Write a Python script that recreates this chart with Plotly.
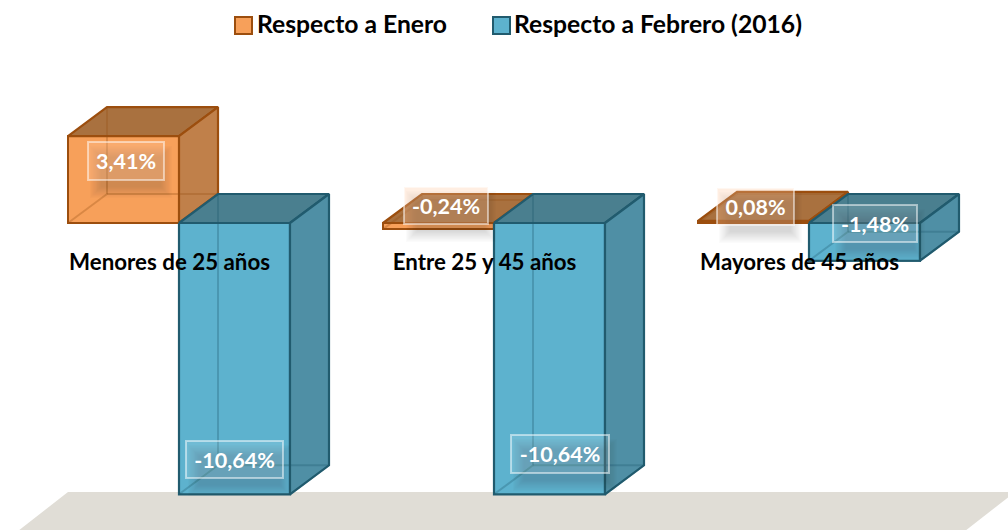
import plotly.graph_objects as go

# ---- data ----
categories = ["Menores de 25 años", "Entre 25 y 45 años", "Mayores de 45 años"]
enero = [3.41, -0.24, 0.08]
febrero = [-10.64, -10.64, -1.48]
series_names = ["Respecto a Enero", "Respecto a Febrero (2016)"]

# ---- scale set-up (figure pixels <-> data) ----
W, H = 1008, 530
PX_PER_GROUP = 315.0
PX_PER_UNIT = 25.5
X0_PX = 179.0
Y0_PX = 223.0
BAR = 111.0 / PX_PER_GROUP
DX = 39.0 / PX_PER_GROUP
DY = 29.0 / PX_PER_UNIT
LABEL_FONT = "Lato, 'Open Sans', sans-serif"


def xd(px):
    return (px - X0_PX) / PX_PER_GROUP


def yd(py):
    return (Y0_PX - py) / PX_PER_UNIT


def faces(values, side):
    top, right, inner, front = ([], []), ([], []), ([], []), ([], [])
    for i, v in enumerate(values):
        l = i - BAR if side == 0 else i
        r = l + BAR
        t, b = max(v, 0), min(v, 0)
        top[0].extend([l, r, r + DX, l + DX, l, None])
        top[1].extend([t, t, t + DY, t + DY, t, None])
        right[0].extend([r, r + DX, r + DX, r, r, None])
        right[1].extend([t, t + DY, b + DY, b, t, None])
        front[0].extend([l, r, r, l, l, None])
        front[1].extend([t, t, b, b, t, None])
        inner[0].extend([l + DX, l + DX, None, l + DX, r + DX, None, l, l + DX, None, r, r + DX, None])
        inner[1].extend([t + DY, b + DY, None, b + DY, b + DY, None, b, b + DY, None, b, b + DY, None])
    return top, right, inner, front


fig = go.Figure()

styles = [
    dict(front="#F7A05A", line="#9C4E0E", top="#A9713F", right="#C0804A", inner="rgba(150,80,20,0.3)",
         box="rgba(255,200,160,0.3)"),
    dict(front="#5DB2CE", line="#215B6E", top="#4A7F8F", right="#4F8FA5", inner="rgba(30,90,110,0.3)",
         box="rgba(255,255,255,0.12)"),
]

# floor
fig.add_trace(go.Scatter(
    x=[xd(18), xd(68), xd(1015), xd(965), xd(18)],
    y=[yd(531), yd(492), yd(492), yd(531), yd(531)],
    mode="lines", fill="toself", fillcolor="#E0DDD6", line=dict(width=0),
    hoverinfo="skip", showlegend=False))

for side, (vals, name, st) in enumerate(zip([enero, febrero], series_names, styles)):
    fig.add_trace(go.Bar(
        x=list(range(3)), y=vals, name=name, offsetgroup=str(side), showlegend=False,
        marker=dict(color=st["front"], line=dict(color=st["line"], width=2)),
        hoverinfo="skip"))
    top, right, inner, front = faces(vals, side)
    layers = [(top, st["top"]), (right, st["right"])]
    if side == 1:
        # later series' front faces must hide the earlier series' side faces
        layers.insert(0, (front, st["front"]))
    for pts, col in layers:
        fig.add_trace(go.Scatter(
            x=pts[0], y=pts[1], mode="lines", fill="toself", fillcolor=col,
            line=dict(color=st["line"], width=2.2), hoverinfo="skip", showlegend=False))
    fig.add_trace(go.Scatter(
        x=inner[0], y=inner[1], mode="lines", line=dict(color=st["inner"], width=2),
        hoverinfo="skip", showlegend=False))

# value labels: (series values, style, index, box left/top/right/bottom px)
label_boxes = [
    (enero, 0, 0, 88, 142, 164, 180),
    (febrero, 1, 0, 186, 441, 283, 478),
    (enero, 0, 1, 404, 187, 488, 224),
    (febrero, 1, 1, 511, 435, 609, 473),
    (enero, 0, 2, 717, 188, 794, 225),
    (febrero, 1, 2, 833, 205, 917, 242),
]
shapes = []
annotations = []
for vals, s, i, x0, y0, x1, y1 in label_boxes:
    # soft drop shadow
    for g in range(10):
        shapes.append(dict(
            type="rect", layer="above", xref="x", yref="y",
            x0=xd(x0 + 2 + g * 1.2), x1=xd(x1 + 8 - g * 1.2),
            y0=yd(y0 + 4 + g * 1.2), y1=yd(y1 + 18 - g * 1.2),
            line_width=0, fillcolor="rgba(60,50,40,0.018)"))
    annotations.append(dict(
        x=xd((x0 + x1) / 2), y=yd((y0 + y1) / 2), xref="x", yref="y",
        text=f"{vals[i]:.2f}".replace(".", ",") + "%", showarrow=False,
        font=dict(family=LABEL_FONT, size=21.5, color="white", weight=700),
        width=x1 - x0 - 2, height=y1 - y0 - 2, align="center", valign="middle",
        bgcolor=styles[s]["box"], bordercolor="rgba(255,255,255,0.5)", borderwidth=2, borderpad=0))

# legend
legend_items = [(series_names[0], 235, 252, 255, styles[0]), (series_names[1], 493, 510, 512, styles[1])]
for name, x0, x1, tx, st in legend_items:
    shapes.append(dict(type="rect", xref="paper", yref="paper", layer="above",
                       x0=x0 / W, x1=x1 / W, y0=1 - 34 / H, y1=1 - 17 / H,
                       fillcolor=st["front"], line=dict(color=st["line"], width=2)))
    annotations.append(dict(x=tx / W, y=1 - 24 / H, xref="paper", yref="paper", xanchor="left", yanchor="middle",
                            text=name, showarrow=False, font=dict(family=LABEL_FONT, size=24.7, color="black", weight=700)))

fig.update_layout(
    width=W, height=H, autosize=False, margin=dict(l=0, r=0, t=0, b=0),
    paper_bgcolor="white", plot_bgcolor="white",
    barmode="group", bargap=1 - 2 * BAR, bargroupgap=0, showlegend=False,
    xaxis=dict(range=[xd(0), xd(W)], showgrid=False, zeroline=False, showline=False,
               tickmode="array", tickvals=[i - 0.03 for i in range(3)], ticktext=categories,
               ticks="", anchor="free", position=1 - 247 / H, fixedrange=True,
               tickfont=dict(family=LABEL_FONT, size=22.3, color="black", weight=700)),
    yaxis=dict(range=[yd(H), yd(0)], visible=False, fixedrange=True),
    shapes=shapes, annotations=annotations,
)

fig.write_html("out.html", config=dict(displayModeBar=False),
               post_script="document.body.style.margin='0';document.body.style.overflow='hidden';")
